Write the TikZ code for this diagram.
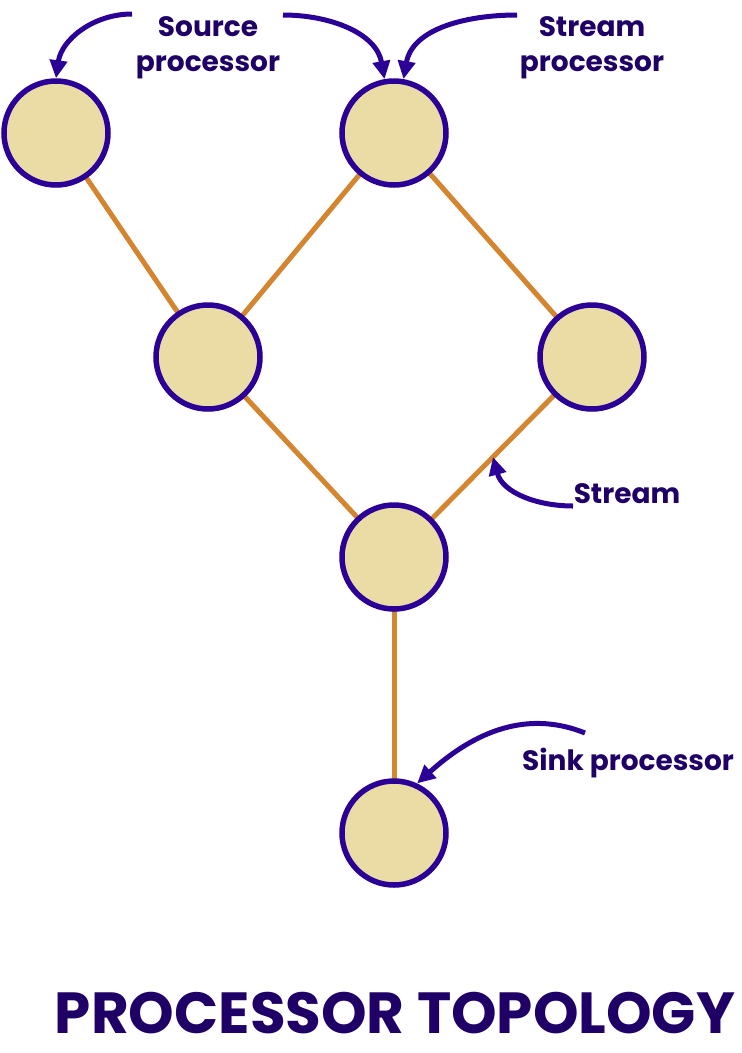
\documentclass[tikz,border=0pt]{standalone}
\usepackage{fontspec}
\setmainfont{Poppins}
\usetikzlibrary{arrows.meta,calc}
\definecolor{procfill}{HTML}{EBDCA6}
\definecolor{procline}{HTML}{2A0096}
\definecolor{edgecol}{HTML}{D3852F}
\definecolor{txtcol}{HTML}{1F0066}
\tikzset{
  proc/.style={circle,draw=procline,fill=procfill,line width=5.5pt,minimum size=104pt,inner sep=0pt},
  link/.style={draw=edgecol,line width=5pt},
  callout/.style={draw=procline,line width=5pt,-{Triangle[length=18pt,width=17pt]}},
  lbl/.style={text=txtcol,font=\fontsize{28}{35.5}\selectfont\bfseries,align=center,inner sep=0pt},
  ttl/.style={text=txtcol,font=\fontsize{58}{60}\selectfont\bfseries,inner sep=0pt}
}
\begin{document}
\begin{tikzpicture}[x=1pt,y=-1pt]
\useasboundingbox (0,0) rectangle (742,1053);
% node positions
\coordinate (pA) at (56,133);
\coordinate (pB) at (394,133);
\coordinate (pC) at (208,357);
\coordinate (pD) at (592,357);
\coordinate (pE) at (394,557);
\coordinate (pF) at (394,833);
% links (drawn first, under the nodes)
\draw[link] (pA) -- (pC);
\draw[link] (pB) -- (pC);
\draw[link] (pB) -- (pD);
\draw[link] (pC) -- (pE);
\draw[link] (pD) -- (pE);
\draw[link] (pE) -- (pF);
% nodes
\node[proc] (A) at (pA) {};
\node[proc] (B) at (pB) {};
\node[proc] (C) at (pC) {};
\node[proc] (D) at (pD) {};
\node[proc] (E) at (pE) {};
\node[proc] (F) at (pF) {};
% labels
\node[lbl,anchor=base] (l1) at (208,71.5) {Source\\processor};
\node[lbl,anchor=base] (l2) at (592,71.5) {Stream\\processor};
\node[lbl,anchor=base] (l3) at (627,503) {Stream};
\node[lbl,anchor=base] (l4) at (628,770) {Sink processor};
\node[ttl,anchor=base] (title) at (395,1033) {PROCESSOR TOPOLOGY};
% callouts
\coordinate (s1) at (132,14);
\coordinate (s2) at (283,15);
\coordinate (s3) at (517,15);
\coordinate (s4) at (573,506);
\coordinate (s5) at (585,733);
\coordinate (m) at ($(pD)!0.5!(pE)$);
\draw[callout] (s1) to[out=180,in=82] (A.north);
\draw[callout] (s2) to[out=0,in=100] (B.100);
\draw[callout] (s3) to[out=180,in=80] (B.80);
\draw[callout] (s4) to[out=180,in=-75] (m);
\draw[callout] (s5) to[out=158,in=42] (F.65);
\end{tikzpicture}
\end{document}
